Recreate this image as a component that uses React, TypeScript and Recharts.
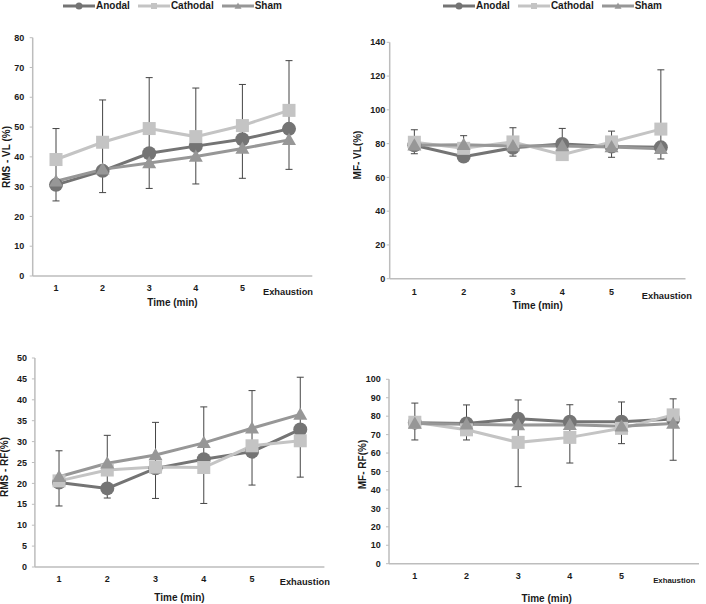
import React from 'react';
import { LineChart, Line, XAxis, YAxis, ErrorBar, Legend, Label } from 'recharts';

const FF = '"Liberation Sans", Arial, sans-serif';

const categories = ['1', '2', '3', '4', '5', 'Exhaustion'];
const seriesNames = ['Anodal', 'Cathodal', 'Sham'];

// RMS - VL
const rmsVlAnodal = [30.6, 35.3, 41.2, 43.6, 45.9, 49.4];
const rmsVlCathodal = [39.1, 44.9, 49.5, 46.8, 50.5, 55.6];
const rmsVlSham = [31.8, 35.8, 37.9, 40.1, 42.8, 45.7];
const rmsVlLow = [25.2, 28.0, 29.4, 30.9, 32.8, 35.8];
const rmsVlHigh = [49.5, 59.1, 66.6, 63.1, 64.3, 72.3];
const rmsVlTicks = [0, 10, 20, 30, 40, 50, 60, 70, 80];

// MF - VL
const mfVlAnodal = [79.0, 72.3, 77.5, 79.8, 78.3, 77.8];
const mfVlCathodal = [80.8, 77.2, 81.0, 73.5, 81.0, 88.6];
const mfVlSham = [79.0, 79.3, 78.6, 78.6, 78.0, 77.0];
const mfVlLow = [74.0, 72.5, 72.6, 74.0, 71.9, 70.9];
const mfVlHigh = [88.2, 84.7, 89.4, 89.0, 87.4, 123.7];
const mfVlTicks = [0, 20, 40, 60, 80, 100, 120, 140];

// RMS - RF
const rmsRfAnodal = [20.2, 18.8, 23.6, 25.8, 27.6, 32.9];
const rmsRfCathodal = [20.6, 23.2, 23.9, 23.8, 29.0, 30.2];
const rmsRfSham = [21.6, 24.8, 26.8, 29.7, 33.2, 36.5];
const rmsRfLow = [14.6, 16.5, 16.4, 15.2, 19.6, 21.5];
const rmsRfHigh = [27.8, 31.5, 34.6, 38.3, 42.2, 45.4];
const rmsRfTicks = [0, 5, 10, 15, 20, 25, 30, 35, 40, 45, 50];

// MF - RF
const mfRfAnodal = [76.5, 76.0, 78.6, 77.0, 77.0, 78.5];
const mfRfCathodal = [76.7, 72.6, 65.8, 68.5, 73.4, 80.7];
const mfRfSham = [76.0, 75.6, 75.2, 75.4, 74.5, 76.0];
const mfRfLow = [67.1, 67.1, 41.8, 54.6, 65.1, 56.1];
const mfRfHigh = [87.1, 86.1, 88.8, 86.2, 87.7, 89.4];
const mfRfTicks = [0, 10, 20, 30, 40, 50, 60, 70, 80, 90, 100];

const COLORS = { anodal: '#747474', cathodal: '#c4c4c4', sham: '#979797' };
const AXIS = '#bdbdbd';
const TXT = '#1a1a1a';

const buildData = (a: number[], c: number[], s: number[], lo: number[], hi: number[]) =>
  categories.map((t, i) => ({
    time: t,
    anodal: a[i],
    cathodal: c[i],
    sham: s[i],
    lo: lo[i],
    err: [0, hi[i] - lo[i]],
  }));

type Shape = 'circle' | 'square' | 'triangle';

const Marker = ({ shape, cx, cy, color, size }: { shape: Shape; cx: number; cy: number; color: string; size: number }) => {
  const h = size / 2;
  if (shape === 'circle') return <circle cx={cx} cy={cy} r={h} fill={color} />;
  if (shape === 'square') return <rect x={cx - h + 0.5} y={cy - h + 0.5} width={size - 1} height={size - 1} fill={color} />;
  return <polygon points={`${cx},${cy - h} ${cx + h},${cy + h * 0.75} ${cx - h},${cy + h * 0.75}`} fill={color} />;
};

const makeDot = (shape: Shape, color: string) => (p: any) => {
  const { cx, cy, index } = p;
  if (cx == null || cy == null) return <g key={`e${index}`} />;
  return (
    <g key={`d${shape}${index}`}>
      <Marker shape={shape} cx={cx} cy={cy} color={color} size={14} />
    </g>
  );
};

const LegendIcon = ({ shape, color }: { shape: Shape; color: string }) => (
  <svg width={32} height={10} style={{ display: 'block' }}>
    <line x1={0} y1={5} x2={32} y2={5} stroke={color} strokeWidth={3} />
    <Marker shape={shape} cx={16} cy={5} color={color} size={7} />
  </svg>
);

const LegendBox = () => {
  const items: { name: string; shape: Shape; color: string }[] = [
    { name: seriesNames[0], shape: 'circle', color: COLORS.anodal },
    { name: seriesNames[1], shape: 'square', color: COLORS.cathodal },
    { name: seriesNames[2], shape: 'triangle', color: COLORS.sham },
  ];
  return (
    <div style={{ display: 'flex', alignItems: 'center', fontFamily: FF, fontWeight: 700, fontSize: 10, lineHeight: '10px', color: TXT, whiteSpace: 'nowrap' }}>
      {items.map((it) => (
        <div key={it.name} style={{ display: 'flex', alignItems: 'center', marginRight: 8 }}>
          <LegendIcon shape={it.shape} color={it.color} />
          <span style={{ marginLeft: 1 }}>{it.name}</span>
        </div>
      ))}
    </div>
  );
};

type Cfg = {
  box: { left: number; top: number; w: number; h: number };
  plot: { x0: number; y0: number; x1: number; y1: number };
  data: any[];
  ticks: number[];
  yTitle: string;
  yTitlePos: [number, number];
  xTitlePos: [number, number];
  yGap: number;
  digitDy: number;
  exDy: number;
  exDx: number;
  exSize: number;
  legendLeft?: number;
};

const panels: Cfg[] = [
  {
    box: { left: 0, top: 0, w: 353, h: 312 },
    plot: { x0: 32.7, y0: 37.7, x1: 312.3, y1: 276 },
    data: buildData(rmsVlAnodal, rmsVlCathodal, rmsVlSham, rmsVlLow, rmsVlHigh),
    ticks: rmsVlTicks,
    yTitle: 'RMS - VL (%)',
    yTitlePos: [6, 157],
    xTitlePos: [172.5, 302.5],
    yGap: 5.5,
    digitDy: 12.3,
    exDy: 15.7,
    exDx: -1,
    exSize: 9.3,
    legendLeft: 63,
  },
  {
    box: { left: 353, top: 0, w: 353, h: 312 },
    plot: { x0: 389.7, y0: 42.3, x1: 685.5, y1: 278.7 },
    data: buildData(mfVlAnodal, mfVlCathodal, mfVlSham, mfVlLow, mfVlHigh),
    ticks: mfVlTicks,
    yTitle: 'MF- VL(%)',
    yTitlePos: [357, 155],
    xTitlePos: [537.6, 305.5],
    yGap: 1.5,
    digitDy: 13,
    exDy: 17.3,
    exDx: 6,
    exSize: 9.3,
    legendLeft: 90,
  },
  {
    box: { left: 0, top: 306, w: 353, h: 298 },
    plot: { x0: 34.9, y0: 358, x1: 324.4, y1: 567 },
    data: buildData(rmsRfAnodal, rmsRfCathodal, rmsRfSham, rmsRfLow, rmsRfHigh),
    ticks: rmsRfTicks,
    yTitle: 'RMS - RF(%)',
    yTitlePos: [4.5, 467],
    xTitlePos: [179.5, 597],
    yGap: 5,
    digitDy: 11.7,
    exDy: 15,
    exDx: 4.5,
    exSize: 9.3,
  },
  {
    box: { left: 353, top: 306, w: 353, h: 298 },
    plot: { x0: 389, y0: 379.3, x1: 699, y1: 563.7 },
    data: buildData(mfRfAnodal, mfRfCathodal, mfRfSham, mfRfLow, mfRfHigh),
    ticks: mfRfTicks,
    yTitle: 'MF- RF(%)',
    yTitlePos: [362, 464.5],
    xTitlePos: [546.7, 598],
    yGap: 5.3,
    digitDy: 12.3,
    exDy: 16.6,
    exDx: 1,
    exSize: 7.8,
  },
];

const XAXIS_H = 30;

const Panel = ({ cfg }: { cfg: Cfg }) => {
  const { box, plot } = cfg;
  const yw = plot.x0 - box.left;
  const margin = {
    top: plot.y0 - box.top,
    left: 0,
    right: box.left + box.w - plot.x1,
    bottom: box.top + box.h - plot.y1 - XAXIS_H,
  };
  const pad = (plot.x1 - plot.x0) / 12;
  const maxY = cfg.ticks[cfg.ticks.length - 1];

  const XTick = (p: any) => {
    const v = p.payload?.value;
    const isEx = v === 'Exhaustion';
    return (
      <text
        x={p.x + (isEx ? cfg.exDx : 0)}
        y={p.y + (isEx ? cfg.exDy : cfg.digitDy)}
        textAnchor="middle"
        dominantBaseline="central"
        fontFamily={FF}
        fontWeight={700}
        fontSize={isEx ? cfg.exSize : 9}
        fill={TXT}
      >
        {v}
      </text>
    );
  };

  const xTitle = () => (
    <text
      x={cfg.xTitlePos[0] - box.left}
      y={cfg.xTitlePos[1] - box.top}
      textAnchor="middle"
      dominantBaseline="central"
      fontFamily={FF}
      fontWeight={700}
      fontSize={10}
      fill={TXT}
    >
      Time (min)
    </text>
  );

  const yTitle = () => {
    const x = cfg.yTitlePos[0] - box.left;
    const y = cfg.yTitlePos[1] - box.top;
    return (
      <text
        x={x}
        y={y}
        transform={`rotate(-90 ${x} ${y})`}
        textAnchor="middle"
        dominantBaseline="central"
        fontFamily={FF}
        fontWeight={700}
        fontSize={10}
        fill={TXT}
      >
        {cfg.yTitle}
      </text>
    );
  };

  return (
    <div style={{ position: 'absolute', left: box.left, top: box.top }}>
      <LineChart width={box.w} height={box.h} data={cfg.data} margin={margin}>
        <XAxis
          dataKey="time"
          type="category"
          interval={0}
          padding={{ left: pad, right: pad }}
          height={XAXIS_H}
          tickLine={false}
          tickSize={0}
          tickMargin={0}
          axisLine={{ stroke: AXIS, strokeWidth: 1.5 }}
          tick={XTick}
        >
          <Label content={xTitle} />
        </XAxis>
        <YAxis
          type="number"
          domain={[0, maxY]}
          ticks={cfg.ticks}
          interval={0}
          allowDataOverflow
          width={yw}
          tickSize={3}
          tickMargin={cfg.yGap}
          axisLine={{ stroke: AXIS, strokeWidth: 1.5 }}
          tickLine={{ stroke: AXIS }}
          tick={{ fontSize: 9, fontWeight: 700, fill: TXT, fontFamily: FF }}
        >
          <Label content={yTitle} />
        </YAxis>
        {cfg.legendLeft !== undefined && (
          <Legend
            verticalAlign="middle"
            align="center"
            layout="horizontal"
            wrapperStyle={{ top: 0.5, left: cfg.legendLeft, width: 'auto', height: 'auto' }}
            content={() => <LegendBox />}
          />
        )}
        <Line
          dataKey="lo"
          stroke="none"
          dot={false}
          activeDot={false}
          legendType="none"
          isAnimationActive={false}
        >
          <ErrorBar dataKey="err" direction="y" width={3.5} stroke="#454545" strokeWidth={1} isAnimationActive={false} />
        </Line>
        <Line
          dataKey="anodal"
          name={seriesNames[0]}
          stroke={COLORS.anodal}
          strokeWidth={3}
          dot={makeDot('circle', COLORS.anodal)}
          activeDot={false}
          isAnimationActive={false}
        />
        <Line
          dataKey="cathodal"
          name={seriesNames[1]}
          stroke={COLORS.cathodal}
          strokeWidth={3}
          dot={makeDot('square', COLORS.cathodal)}
          activeDot={false}
          isAnimationActive={false}
        />
        <Line
          dataKey="sham"
          name={seriesNames[2]}
          stroke={COLORS.sham}
          strokeWidth={3}
          dot={makeDot('triangle', COLORS.sham)}
          activeDot={false}
          isAnimationActive={false}
        />
      </LineChart>
    </div>
  );
}

export default function App() {
  return (
    <div style={{ position: 'absolute', left: 0, top: 0, width: 706, height: 604, background: '#fff', overflow: 'hidden' }}>
      {panels.map((cfg, i) => (
        <Panel key={i} cfg={cfg} />
      ))}
    </div>
  );
}
